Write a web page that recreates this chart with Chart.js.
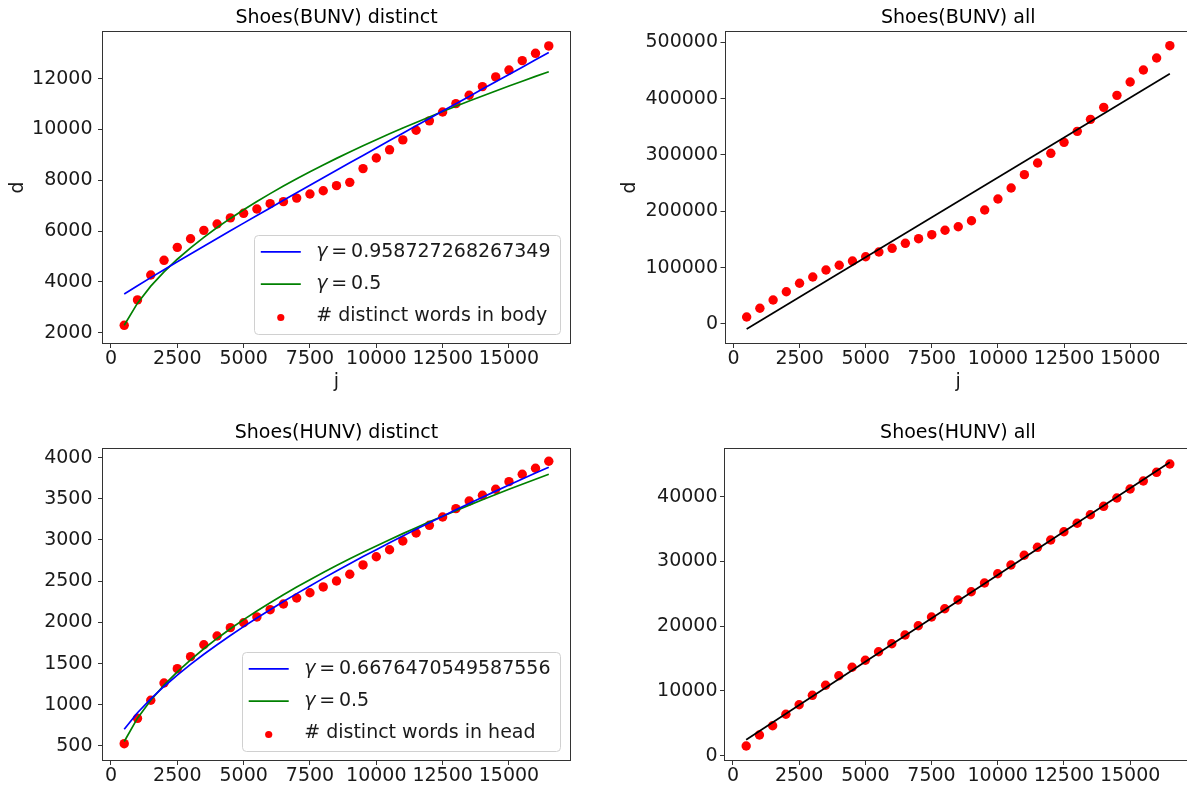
<!DOCTYPE html>
<html>
<head>
<meta charset="utf-8">
<script src="https://cdn.jsdelivr.net/npm/chart.js@4.4.1/dist/chart.umd.min.js"></script>
<style>
  html, body { margin: 0; padding: 0; background: #fff; overflow: hidden; width: 1187px; height: 785px; }
  canvas { position: absolute; }
</style>
</head>
<body>
<canvas id="bunvDistinctChart" width="600" height="400" style="left:0;top:0"></canvas>
<canvas id="bunvAllChart" width="600" height="400" style="left:600px;top:0"></canvas>
<canvas id="hunvDistinctChart" width="600" height="385" style="left:0;top:400px"></canvas>
<canvas id="hunvAllChart" width="600" height="385" style="left:600px;top:400px"></canvas>
<script>
// Sample sizes j (number of documents read so far)
const jValues = [500, 1000, 1500, 2000, 2500, 3000, 3500, 4000, 4500, 5000, 5500,
  6000, 6500, 7000, 7500, 8000, 8500, 9000, 9500, 10000, 10500, 11000,
  11500, 12000, 12500, 13000, 13500, 14000, 14500, 15000, 15500, 16000, 16500];

// Shoes(BUNV): distinct words in body, with the two Heaps-style fits
const bunvDistinct = [2290, 3290, 4270, 4850, 5360, 5700, 6030, 6280, 6520, 6700, 6870,
  7080, 7160, 7300, 7460, 7590, 7790, 7920, 8460, 8880, 9200, 9590,
  9970, 10340, 10690, 11020, 11350, 11690, 12070, 12340, 12710, 13000, 13290];
const bunvFitGamma = [3524, 3849, 4168, 4481, 4792, 5100, 5407, 5711, 6013, 6314, 6614,
  6913, 7211, 7508, 7804, 8099, 8394, 8688, 8980, 9273, 9564, 9856,
  10146, 10437, 10727, 11015, 11304, 11592, 11881, 12168, 12455, 12742, 13028];
const bunvFitHalf = [2291, 3163, 3832, 4395, 4892, 5341, 5754, 6139, 6499, 6841, 7165,
  7476, 7773, 8060, 8336, 8603, 8863, 9114, 9359, 9597, 9829, 10056,
  10278, 10495, 10707, 10916, 11120, 11321, 11518, 11711, 11902, 12090, 12274];

// Shoes(BUNV): all words, with a straight-line fit (end points)
const bunvAll = [12420, 27860, 42590, 57320, 72230, 83410, 95830, 104170, 111800, 119430, 127770,
  134300, 143200, 151380, 158480, 166280, 172670, 183320, 202310, 221830, 241350, 265000,
  285720, 302900, 322400, 341900, 363200, 384500, 405800, 429460, 450750, 472050, 493900];
const fitEndJ = [500, 16500];
const bunvAllFit = [-8870, 444200];

// Shoes(HUNV): distinct words in head, with the two fits
const hunvDistinct = [528, 836, 1055, 1265, 1438, 1584, 1729, 1835, 1936, 1996, 2066,
  2154, 2223, 2296, 2360, 2430, 2502, 2584, 2697, 2797, 2882, 2988,
  3085, 3178, 3279, 3380, 3473, 3542, 3615, 3708, 3797, 3870, 3955];
const hunvFitGamma = [703, 904, 1072, 1222, 1361, 1490, 1613, 1729, 1841, 1949, 2053,
  2154, 2253, 2349, 2442, 2534, 2623, 2712, 2798, 2882, 2966, 3049,
  3130, 3209, 3288, 3366, 3442, 3518, 3593, 3666, 3740, 3812, 3883];
const hunvFitHalf = [555, 838, 1056, 1239, 1400, 1546, 1680, 1805, 1922, 2033, 2138,
  2239, 2336, 2429, 2518, 2605, 2690, 2771, 2851, 2928, 3003, 3077,
  3149, 3220, 3289, 3356, 3423, 3488, 3552, 3615, 3677, 3737, 3797];

// Shoes(HUNV): all words, with a straight-line fit (end points)
const hunvAll = [1498, 3197, 4633, 6394, 7876, 9328, 10873, 12355, 13653, 14734, 16062,
  17297, 18641, 20077, 21421, 22703, 24046, 25328, 26672, 28108, 29452, 30950,
  32185, 33313, 34595, 35892, 37220, 38517, 39799, 41189, 42425, 43768, 45050];
const hunvAllFit = [2470, 45310];

// Tick labels
const xTickValues = [0, 2500, 5000, 7500, 10000, 12500, 15000];
const bunvDistinctTicks = [2000, 4000, 6000, 8000, 10000, 12000];
const bunvAllTicks = [0, 100000, 200000, 300000, 400000, 500000];
const hunvDistinctTicks = [500, 1000, 1500, 2000, 2500, 3000, 3500, 4000];
const hunvAllTicks = [0, 10000, 20000, 30000, 40000];

// Legend texts
const gammaBody = 'γ\u2009=\u20090.958727268267349';
const gammaHead = 'γ\u2009=\u20090.6676470549587556';
const gammaHalf = 'γ\u2009=\u20090.5';

const FONT = '"DejaVu Sans", sans-serif';
Chart.defaults.font.family = FONT;
Chart.defaults.color = '#000';

const pairUp = (xs, ys) => xs.map((x, i) => ({ x: x, y: ys[i] }));

function lineSet(label, xs, ys, color) {
  return { label, data: pairUp(xs, ys), showLine: true, borderColor: color, backgroundColor: color,
    borderWidth: 1.7, pointRadius: 0, pointHoverRadius: 0, fill: false, tension: 0 };
}
function dotSet(label, xs, ys) {
  return { label, data: pairUp(xs, ys), showLine: false, pointRadius: 4.7, pointHoverRadius: 4.7,
    pointBackgroundColor: '#ff0000', backgroundColor: '#ff0000', pointBorderWidth: 0, borderWidth: 0 };
}

// Axes frame (all four spines)
const framePlugin = {
  id: 'frame',
  afterDatasetsDraw(chart) {
    const { ctx, chartArea: a } = chart;
    ctx.save();
    ctx.strokeStyle = '#333';
    ctx.lineWidth = 1;
    ctx.strokeRect(Math.round(a.left) - 0.5, Math.round(a.top) - 0.5,
      Math.round(a.right - a.left) + 1, Math.round(a.bottom - a.top) + 1);
    ctx.restore();
  }
};

// Boxed legend in the lower right corner of the plot area
function drawLabel(ctx, text, x, y, size) {
  if (text.charAt(0) === 'γ') {
    ctx.font = 'oblique ' + size + 'px ' + FONT;
    ctx.fillText('γ', x, y);
    const w = ctx.measureText('γ').width;
    ctx.font = size + 'px ' + FONT;
    ctx.fillText(text.slice(1), x + w, y);
  } else {
    ctx.font = size + 'px ' + FONT;
    ctx.fillText(text, x, y);
  }
}
const boxLegendPlugin = {
  id: 'boxLegend',
  afterDraw(chart, args, opts) {
    if (!opts.display) return;
    const { ctx, chartArea: a } = chart;
    const sets = chart.data.datasets;
    const size = opts.fontSize;
    ctx.save();
    ctx.font = size + 'px ' + FONT;
    const textW = Math.max(...sets.map(d => ctx.measureText(d.label).width));
    const w = opts.padLeft + opts.handle + opts.gap + textW + opts.padRight;
    const h = opts.padTop * 2 + opts.rowGap * (sets.length - 1);
    const right = a.right - opts.inset, bottom = a.bottom - opts.inset;
    const left = right - w, top = bottom - h;
    ctx.beginPath();
    ctx.roundRect(Math.round(left) + 0.5, Math.round(top) + 0.5, Math.round(w), Math.round(h), 4);
    ctx.fillStyle = 'rgba(255,255,255,0.8)';
    ctx.fill();
    ctx.strokeStyle = '#d0d0d0';
    ctx.lineWidth = 1;
    ctx.stroke();
    ctx.textBaseline = 'middle';
    ctx.textAlign = 'left';
    sets.forEach((d, i) => {
      const cy = top + opts.padTop + i * opts.rowGap;
      const hx = left + opts.padLeft;
      if (d.showLine) {
        ctx.strokeStyle = d.borderColor;
        ctx.lineWidth = d.borderWidth;
        ctx.beginPath();
        ctx.moveTo(hx, cy);
        ctx.lineTo(hx + opts.handle, cy);
        ctx.stroke();
      } else {
        ctx.fillStyle = d.pointBackgroundColor;
        ctx.beginPath();
        ctx.arc(hx + opts.handle / 2, cy + 1, 3.6, 0, Math.PI * 2);
        ctx.fill();
      }
      ctx.fillStyle = '#1a1a1a';
      drawLabel(ctx, d.label, hx + opts.handle + opts.gap, cy, size);
    });
    ctx.restore();
  }
};

function panel(id, p) {
  const tickGrid = { display: true, drawOnChartArea: false, drawTicks: true, tickLength: 5,
    color: '#333', tickColor: '#333', tickWidth: 1 };
  return new Chart(document.getElementById(id), {
    type: 'scatter',
    data: { datasets: p.datasets },
    plugins: [framePlugin, boxLegendPlugin],
    options: {
      responsive: false,
      animation: false,
      devicePixelRatio: 1,
      events: [],
      layout: { padding: { left: 0, right: p.padRight, top: 0, bottom: 0 } },
      plugins: {
        legend: { display: false },
        tooltip: { enabled: false },
        title: { display: true, text: p.title, fullSize: false, color: '#000',
          font: { size: 19, weight: 'normal', lineHeight: 1.2 },
          padding: { top: p.titleTop, bottom: p.titleBottom } },
        boxLegend: p.legend || { display: false }
      },
      scales: {
        x: {
          type: 'linear', position: 'bottom', min: -300, max: 17300,
          afterBuildTicks: s => { s.ticks = xTickValues.map(v => ({ value: v })); },
          afterFit: s => { s.height = p.xAxisHeight; },
          grid: tickGrid,
          border: { display: false },
          ticks: { autoSkip: false, maxRotation: 0, color: '#1a1a1a', padding: 2,
            font: { size: 19, lineHeight: 1 }, callback: v => String(v) },
          title: { display: !!p.xTitle, text: p.xTitle || '', color: '#1a1a1a',
            font: { size: 19, lineHeight: 1.2 }, padding: { top: 0, bottom: 6.6 } }
        },
        y: {
          type: 'linear', position: 'left', min: p.yMin, max: p.yMax,
          afterBuildTicks: s => { s.ticks = p.yTicks.map(v => ({ value: v })); },
          afterFit: s => { s.width = p.yAxisWidth; },
          grid: tickGrid,
          border: { display: false },
          ticks: { autoSkip: false, color: '#1a1a1a', padding: p.yTickPad,
            font: { size: 19, lineHeight: 1 }, callback: v => String(v) },
          title: { display: !!p.yTitle, text: p.yTitle || '', color: '#1a1a1a',
            font: { size: 19, lineHeight: 1.2 }, padding: { top: p.yTitlePad, bottom: 0 } }
        }
      }
    }
  });
}

const legendStyle = { display: true, fontSize: 19, padLeft: 6.5, handle: 40, gap: 15.5,
  padRight: 10, padTop: 17, rowGap: 32.3, inset: 9.5 };

panel('bunvDistinctChart', {
  title: 'Shoes(BUNV) distinct', titleTop: 7, titleBottom: 2.2,
  padRight: 30, yAxisWidth: 103, xAxisHeight: 57, yTickPad: 5.5,
  xTitle: 'j', yTitle: 'd', yTitlePad: 6.6,
  yMin: 1594, yMax: 13839, yTicks: bunvDistinctTicks,
  legend: legendStyle,
  datasets: [
    lineSet(gammaBody, jValues, bunvFitGamma, '#0000ff'),
    lineSet(gammaHalf, jValues, bunvFitHalf, '#008000'),
    dotSet('# distinct words in body', jValues, bunvDistinct)
  ]
});

panel('bunvAllChart', {
  title: 'Shoes(BUNV) all', titleTop: 7, titleBottom: 2.2,
  padRight: 9, yAxisWidth: 125.5, xAxisHeight: 57, yTickPad: 2.5,
  xTitle: 'j', yTitle: 'd', yTitlePad: 18.6,
  yMin: -33718, yMax: 518190, yTicks: bunvAllTicks,
  datasets: [
    lineSet('fit', fitEndJ, bunvAllFit, '#000000'),
    dotSet('# words in body', jValues, bunvAll)
  ]
});

panel('hunvDistinctChart', {
  title: 'Shoes(HUNV) distinct', titleTop: 21.6, titleBottom: 4.6,
  padRight: 30, yAxisWidth: 103, xAxisHeight: 25, yTickPad: 5.5,
  yMin: 330, yMax: 4104, yTicks: hunvDistinctTicks,
  legend: legendStyle,
  datasets: [
    lineSet(gammaHead, jValues, hunvFitGamma, '#0000ff'),
    lineSet(gammaHalf, jValues, hunvFitHalf, '#008000'),
    dotSet('# distinct words in head', jValues, hunvDistinct)
  ]
});

panel('hunvAllChart', {
  title: 'Shoes(HUNV) all', titleTop: 21.6, titleBottom: 4.6,
  padRight: 9, yAxisWidth: 125, xAxisHeight: 25, yTickPad: 2.5,
  yMin: -664, yMax: 47367, yTicks: hunvAllTicks,
  datasets: [
    lineSet('fit', fitEndJ, hunvAllFit, '#000000'),
    dotSet('# words in head', jValues, hunvAll)
  ]
});
</script>
</body>
</html>
